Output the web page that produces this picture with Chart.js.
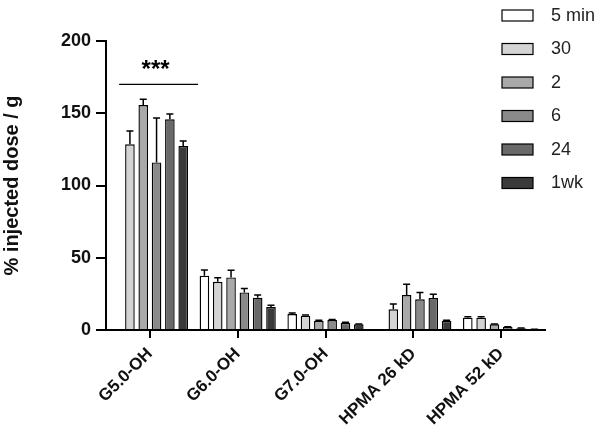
<!DOCTYPE html>
<html>
<head>
<meta charset="utf-8">
<script src="https://cdn.jsdelivr.net/npm/chart.js@4"></script>
<style>
  html, body { margin: 0; padding: 0; background: #fff; }
  #wrap { width: 600px; height: 434px; position: relative; }
</style>
</head>
<body>
<div id="wrap"><canvas id="chart"></canvas></div>
<script>
// categories and series
var categories = ["G5.0-OH", "G6.0-OH", "G7.0-OH", "HPMA 26 kD", "HPMA 52 kD"];
var seriesNames = ["5 min", "30", "2", "6", "24", "1wk"];
var seriesColors = ["#ffffff", "#d4d4d4", "#a9a9a9", "#8a8a8a", "#696969", "#3a3a3a"];

var v5min = [null, 37.6, 11.0, null, 8.5];
var v30   = [128.5, 33.4, 9.9, 14.3, 8.5];
var v2    = [155.7, 36.4, 6.4, 24.2, 3.9];
var v6    = [116.0, 26.0, 6.9, 21.2, 2.1];
var v24   = [145.8, 22.4, 5.0, 22.1, 1.2];
var v1wk  = [127.3, 15.9, 3.9, 6.4, 0.4];

var e5min = [0, 4.0, 0.7, 0, 0.6];
var e30   = [9.2, 2.8, 0.5, 3.7, 0.6];
var e2    = [4.0, 4.9, 0.4, 7.4, 0.3];
var e6    = [30.7, 2.8, 0.4, 4.8, 0.2];
var e24   = [3.7, 1.8, 0.3, 2.6, 0.1];
var e1wk  = [3.5, 1.2, 0.3, 0.3, 0.1];

var yTicks = [0, 50, 100, 150, 200];

var allValues = [v5min, v30, v2, v6, v24, v1wk];
var allErrors = [e5min, e30, e2, e6, e24, e1wk];

var FONT = "'Liberation Sans', Arial, sans-serif";

// upper error bars, drawn from each bar and the y scale
var errorBars = {
    id: 'errorBars',
    afterDatasetsDraw: function (chart) {
        var ctx = chart.ctx;
        var y = chart.scales.y;
        ctx.save();
        ctx.strokeStyle = '#000';
        ctx.lineWidth = 1.5;
        chart.data.datasets.forEach(function (ds, i) {
            var meta = chart.getDatasetMeta(i);
            meta.data.forEach(function (bar, j) {
                var v = ds.data[j];
                var err = allErrors[i][j];
                if (v == null || !err) return;
                var top = y.getPixelForValue(v + err);
                ctx.beginPath();
                ctx.moveTo(bar.x, bar.y);
                ctx.lineTo(bar.x, top);
                ctx.moveTo(bar.x - 3.5, top);
                ctx.lineTo(bar.x + 3.5, top);
                ctx.stroke();
            });
        });
        ctx.restore();
    }
};

// significance mark over the first group
var sigMark = {
    id: 'sigMark',
    afterDraw: function (chart) {
        var ctx = chart.ctx;
        var first = chart.getDatasetMeta(1).data[0];
        var last = chart.getDatasetMeta(5).data[0];
        var x1 = first.x - first.width / 2 - 6;
        var x2 = last.x + last.width / 2 + 10;
        var ly = chart.scales.y.getPixelForValue(170);
        ctx.save();
        ctx.strokeStyle = '#000';
        ctx.lineWidth = 1.2;
        ctx.beginPath();
        ctx.moveTo(x1, ly);
        ctx.lineTo(x2, ly);
        ctx.stroke();
        ctx.fillStyle = '#000';
        ctx.font = 'bold 24px ' + FONT;
        ctx.textAlign = 'center';
        ctx.textBaseline = 'middle';
        ctx.fillText('***', (x1 + x2) / 2 - 3, chart.scales.y.getPixelForValue(180));
        ctx.restore();
    }
};

// legend stacked at top right, over the plot
var sideLegend = {
    id: 'sideLegend',
    afterDraw: function (chart) {
        var ctx = chart.ctx;
        ctx.save();
        ctx.font = '18px ' + FONT;
        ctx.textBaseline = 'middle';
        ctx.textAlign = 'left';
        chart.data.datasets.forEach(function (ds, i) {
            var top = 10 + i * 33.5;
            ctx.fillStyle = ds.backgroundColor;
            ctx.fillRect(502, top, 31, 11);
            ctx.strokeStyle = '#000';
            ctx.lineWidth = 1.2;
            ctx.strokeRect(502, top, 31, 11);
            ctx.fillStyle = '#222';
            ctx.fillText(ds.label, 551, top + 6);
        });
        ctx.restore();
    }
};

var datasets = seriesNames.map(function (name, i) {
    return {
        label: name,
        data: allValues[i],
        backgroundColor: seriesColors[i],
        borderColor: '#000',
        borderWidth: 1.4,
        categoryPercentage: 0.91,
        barPercentage: 0.72
    };
});

new Chart(document.getElementById('chart'), {
    type: 'bar',
    data: { labels: categories, datasets: datasets },
    plugins: [errorBars, sigMark, sideLegend],
    options: {
        responsive: true,
        maintainAspectRatio: false,
        animation: false,
        layout: { padding: { top: 41, right: 55, left: 0, bottom: 0 } },
        plugins: {
            legend: { display: false },
            tooltip: { enabled: false }
        },
        scales: {
            x: {
                grid: { display: true, offset: false, drawOnChartArea: false, color: '#000', lineWidth: 2, tickLength: 8 },
                border: { color: '#000', width: 2 },
                ticks: {
                    color: '#111',
                    font: { family: FONT, size: 17, weight: 'bold' },
                    minRotation: 45,
                    maxRotation: 45,
                    padding: 6
                },
                afterFit: function (s) { s.height = 104; }
            },
            y: {
                min: 0,
                max: 200,
                afterBuildTicks: function (s) {
                    s.ticks = yTicks.map(function (v) { return { value: v }; });
                },
                grid: { display: true, drawOnChartArea: false, color: '#000', lineWidth: 2, tickLength: 10 },
                border: { color: '#000', width: 2 },
                ticks: {
                    color: '#111',
                    font: { family: FONT, size: 18, weight: 'bold' },
                    padding: 5
                },
                title: {
                    display: true,
                    text: '% injected dose / g',
                    color: '#111',
                    font: { family: FONT, size: 20, weight: 'bold' },
                    padding: { top: 0, bottom: 0 }
                },
                afterFit: function (s) { s.width = 106; }
            }
        }
    }
});
</script>
</body>
</html>
